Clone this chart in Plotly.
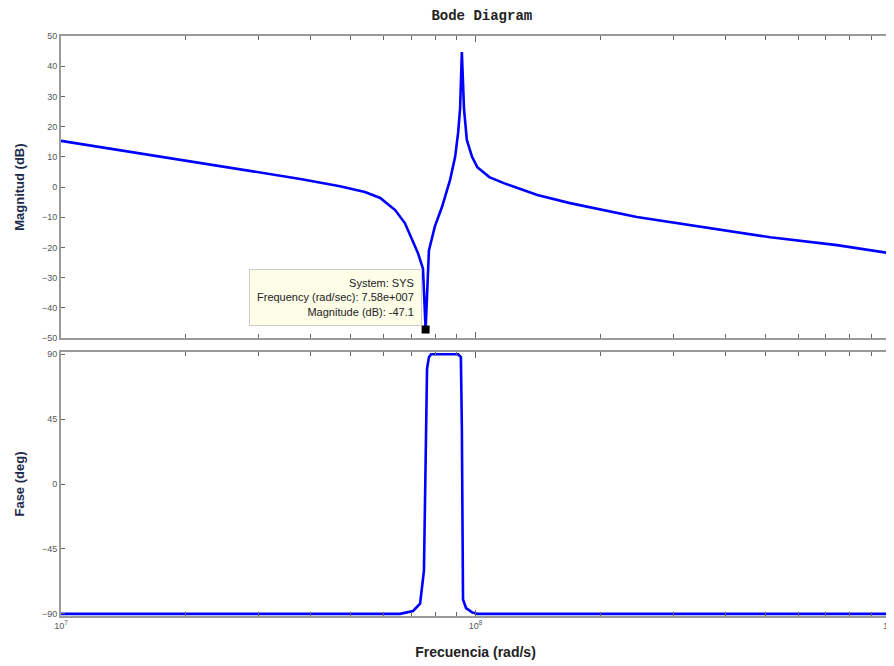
import numpy as np
import plotly.graph_objects as go

# Magnitude data (rad/s, dB)
freq_mag = [1.0e7, 1.64e7, 2.86e7, 3.78e7, 4.71e7, 5.41e7, 5.89e7, 6.40e7, 6.76e7,
            7.03e7, 7.27e7, 7.47e7, 7.58e7, 7.72e7, 7.98e7, 8.30e7, 8.68e7, 8.93e7,
            9.08e7, 9.18e7, 9.27e7, 9.38e7, 9.53e7, 9.81e7, 1.01e8, 1.08e8, 1.17e8,
            1.41e8, 1.69e8, 2.45e8, 3.54e8, 5.14e8, 7.45e8, 1.0e9]
mag_db = [15.3, 10.6, 5.4, 2.7, 0.3, -1.6, -3.6, -7.6, -12.0,
          -17.5, -22.0, -27.0, -47.1, -21.0, -13.0, -6.6, 2.3, 10.0,
          18.0, 26.0, 44.7, 26.0, 15.6, 10.0, 6.6, 3.3, 1.3,
          -2.6, -5.3, -9.9, -13.2, -16.6, -19.2, -21.9]

# Phase data (rad/s, deg)
freq_ph = [1.0e7, 6.58e7, 7.07e7, 7.35e7, 7.51e7, 7.58e7, 7.64e7, 7.72e7, 7.81e7,
           9.08e7, 9.22e7, 9.27e7, 9.33e7, 9.49e7, 9.81e7, 1.01e8, 1.0e9]
phase_deg = [-90, -90, -88, -83, -60, 20, 80, 88, 90,
             90, 88, 40, -80, -86, -89, -90, -90]

mag_ticks = [50, 40, 30, 20, 10, 0, -10, -20, -30, -40, -50]
phase_ticks = [90, 45, 0, -45, -90]
decade_vals = [1e7, 1e8, 1e9]
decade_text = ["10<sup>7</sup>", "10<sup>8</sup>", "10<sup>9</sup>"]
minor_vals = [m * d for d in (1e7, 1e8) for m in range(2, 10)]

tip_system = "SYS"

i_min = int(np.argmin(mag_db))
f_tip, m_tip = freq_mag[i_min], mag_db[i_min]

fig = go.Figure()
fig.add_trace(go.Scatter(x=freq_mag, y=mag_db, mode="lines",
                         line=dict(color="#0000ff", width=2.6), xaxis="x", yaxis="y"))
fig.add_trace(go.Scatter(x=freq_ph, y=phase_deg, mode="lines",
                         line=dict(color="#0000ff", width=2.6), xaxis="x2", yaxis="y2"))
fig.add_trace(go.Scatter(x=[f_tip], y=[m_tip], mode="markers",
                         marker=dict(symbol="square", size=8, color="black"),
                         xaxis="x", yaxis="y"))

axis_common = dict(showgrid=False, zeroline=False, showline=True, linecolor="#9a9a9a",
                   linewidth=2, mirror="allticks", ticks="inside", tickcolor="#666",
                   ticklen=4, automargin=False,
                   tickfont=dict(family="Arial, Liberation Sans", size=9, color="#555"))

xcommon = dict(axis_common, type="log", range=[7, 9], tickvals=decade_vals,
               ticklen=6,
               minor=dict(tickvals=minor_vals, ticks="inside", ticklen=4, tickcolor="#666"))

fig.update_layout(
    width=894, height=666,
    margin=dict(l=53, r=12, t=28, b=58),
    paper_bgcolor="white", plot_bgcolor="white",
    showlegend=False,
    title=dict(text="<b>Bode Diagram</b>", x=0.53, xanchor="center", y=0.997, yanchor="top",
               font=dict(family="Liberation Mono, Courier New", size=14, color="#222")),
    xaxis=dict(xcommon, domain=[0, 1], anchor="y", showticklabels=False),
    yaxis=dict(axis_common, domain=[0.479, 1], range=[-50, 50], tickvals=mag_ticks,
               title=dict(text="<b>Magnitud (dB)</b>", standoff=14,
                          font=dict(family="Arial, Liberation Sans", size=13, color="#1c2a4a"))),
    xaxis2=dict(xcommon, domain=[0, 1], anchor="y2", ticktext=decade_text,
                title=dict(text="<b>Frecuencia (rad/s)</b>", standoff=17,
                           font=dict(family="Arial, Liberation Sans", size=14, color="#222"))),
    yaxis2=dict(axis_common, domain=[0, 0.455], range=[-91.5, 91.5], tickvals=phase_ticks,
                title=dict(text="<b>Fase (deg)</b>", standoff=14,
                           font=dict(family="Arial, Liberation Sans", size=13, color="#1c2a4a"))),
)

fig.add_annotation(
    x=np.log10(f_tip), y=m_tip, xref="x", yref="y",
    xanchor="right", yanchor="bottom", xshift=-4, yshift=3,
    text=(f"System: {tip_system}<br>Frequency (rad/sec): {f_tip:.3g}".replace("e+07", "e+007")
          + f"<br>Magnitude (dB): {m_tip:.1f}"),
    showarrow=False, align="right",
    font=dict(family="Arial, Liberation Sans", size=11, color="#222"),
    bgcolor="#fdfde8", bordercolor="#cccccc", borderwidth=1, borderpad=7,
)

fig.write_html("out.html")
